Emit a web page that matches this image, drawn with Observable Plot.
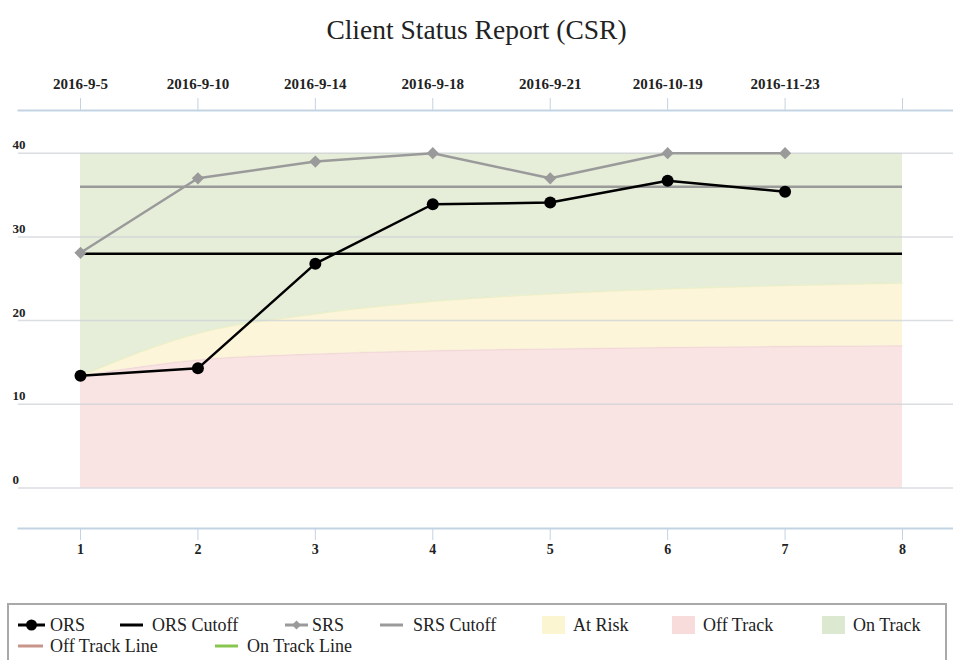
<!DOCTYPE html>
<html><head><meta charset="utf-8">
<script src="https://cdn.jsdelivr.net/npm/d3@7"></script>
<script src="https://cdn.jsdelivr.net/npm/@observablehq/plot@0.6"></script>
<style>
body{margin:0;background:#fff;font-family:"Liberation Serif","Times New Roman",serif;}
#wrap{position:relative;width:953px;height:660px;overflow:hidden;}
#title{height:55px;line-height:60px;text-align:center;font-size:27.5px;color:#222;}
#chart svg{display:block;}
#legendbox{position:absolute;left:7px;top:603px;width:940px;height:80px;border:2px solid #a9a9a9;box-sizing:border-box;}
.ltxt{position:absolute;font-size:18px;line-height:22px;height:22px;color:#222;white-space:nowrap;}
.lmark{position:absolute;}
</style></head><body>
<div id="wrap">
  <div id="title">Client Status Report (CSR)</div>
  <div id="chart"></div>
  <div id="legendbox"></div>
</div>
<script>
// ---- data ----
const sessions = [1, 2, 3, 4, 5, 6, 7];
const sessionDates = ["2016-9-5", "2016-9-10", "2016-9-14", "2016-9-18", "2016-9-21", "2016-10-19", "2016-11-23"];
const orsScores = [13.4, 14.3, 26.8, 33.9, 34.1, 36.7, 35.4];
const srsScores = [28.1, 37.0, 39.0, 40.0, 37.0, 40.0, 40.0];
const orsCutoff = 28;
const srsCutoff = 36;
const bandX = [1, 2, 3, 4, 5, 6, 7, 8];
const offTrackLine = [13.4, 15.3, 16.0, 16.4, 16.6, 16.8, 16.9, 17.0];
const onTrackLine = [13.4, 18.5, 20.8, 22.3, 23.2, 23.8, 24.2, 24.5];
const bandTop = 40;
const yTicks = [0, 10, 20, 30, 40];
const xTicks = [1, 2, 3, 4, 5, 6, 7, 8];

const bands = bandX.map((x, i) => ({x, off: offTrackLine[i], on: onTrackLine[i]}));
const ors = sessions.map((s, i) => ({x: s, y: orsScores[i]}));
const srs = sessions.map((s, i) => ({x: s, y: srsScores[i]}));

const C = {
  offFill: "#f9e3e3", riskFill: "#fcf5da", onFill: "#e6eed9",
  offLine: "#c9958a", onLine: "#86c64e",
  srs: "#9a9a9a", ors: "#000", axis: "#c3d3e3", grid: "#cdd2d7", text: "#222"
};

const chart = Plot.plot({
  width: 953, height: 545,
  marginTop: 55, marginBottom: 72, marginLeft: 18, marginRight: 0,
  x: {domain: [1, 8], range: [80, 902], label: null},
  y: {domain: [0, 40], range: [432.5, 97.7], axis: null, label: null},
  style: {fontFamily: "Liberation Serif, Times New Roman, serif", background: "transparent", overflow: "visible"},
  marks: [
    Plot.area(bands, {x1: "x", y1: 0, y2: "off", fill: C.offFill, curve: "monotone-x"}),
    Plot.area(bands, {x1: "x", y1: "off", y2: "on", fill: C.riskFill, curve: "monotone-x"}),
    Plot.area(bands, {x1: "x", y1: "on", y2: bandTop, fill: C.onFill, curve: "monotone-x"}),
    Plot.line(bands, {x: "x", y: "off", stroke: C.offLine, strokeOpacity: 0.12, strokeWidth: 1.5, curve: "monotone-x"}),
    Plot.line(bands, {x: "x", y: "on", stroke: C.onLine, strokeOpacity: 0.12, strokeWidth: 1.5, curve: "monotone-x"}),
    Plot.ruleY(yTicks, {stroke: C.grid, strokeWidth: 1.5, strokeOpacity: 0.75}),
    Plot.text(yTicks, {y: d => d, text: d => String(d), frameAnchor: "left", dx: -6, dy: -8, textAnchor: "start", fontSize: 13, fontWeight: "bold", fill: C.text}),
    Plot.frame({anchor: "top", stroke: C.axis, strokeWidth: 2}),
    Plot.frame({anchor: "bottom", stroke: C.axis, strokeWidth: 2}),
    Plot.axisX(xTicks, {anchor: "top", label: null, tickSize: 13, tickPadding: 9, tickFormat: d => sessionDates[d - 1] ?? "", stroke: C.axis, fill: C.text, fontSize: 15, fontWeight: "bold"}),
    Plot.axisX(xTicks, {anchor: "bottom", label: null, tickSize: 12, tickPadding: 4, tickFormat: d => String(d), stroke: C.axis, fill: C.text, fontSize: 14, fontWeight: "bold"}),
    Plot.ruleY([srsCutoff], {x1: bandX[0], x2: bandX[bandX.length - 1], stroke: C.srs, strokeWidth: 2.5}),
    Plot.ruleY([orsCutoff], {x1: bandX[0], x2: bandX[bandX.length - 1], stroke: C.ors, strokeWidth: 2.5}),
    Plot.line(srs, {x: "x", y: "y", stroke: C.srs, strokeWidth: 2.5}),
    Plot.dot(srs, {x: "x", y: "y", symbol: "diamond2", r: 5.5, fill: C.srs}),
    Plot.line(ors, {x: "x", y: "y", stroke: C.ors, strokeWidth: 2.5}),
    Plot.dot(ors, {x: "x", y: "y", r: 6, fill: C.ors})
  ]
});
document.getElementById("chart").appendChild(chart);

// ---- legend ----
const legendItems = [
  {label: "ORS", kind: "lineDot", color: C.ors, mx: 18, mw: 27, tx: 50, row: 0},
  {label: "ORS Cutoff", kind: "line", color: C.ors, mx: 120, mw: 23, tx: 152, row: 0},
  {label: "SRS", kind: "lineDiamond", color: C.srs, mx: 285, mw: 23, tx: 312, row: 0},
  {label: "SRS Cutoff", kind: "line", color: C.srs, mx: 380, mw: 23, tx: 413, row: 0},
  {label: "At Risk", kind: "swatch", color: "#fbf5d2", mx: 542, mw: 23, tx: 573, row: 0},
  {label: "Off Track", kind: "swatch", color: "#f8dcdc", mx: 672, mw: 23, tx: 703, row: 0},
  {label: "On Track", kind: "swatch", color: "#dce9d0", mx: 822, mw: 23, tx: 853, row: 0},
  {label: "Off Track Line", kind: "line", color: C.offLine, mx: 18, mw: 25, tx: 50, row: 1},
  {label: "On Track Line", kind: "line", color: C.onLine, mx: 215, mw: 23, tx: 247, row: 1}
];
const rowY = [625, 646];
const wrap = document.getElementById("wrap");
const ns = "http://www.w3.org/2000/svg";
legendItems.forEach(it => {
  const cy = rowY[it.row];
  const h = 18;
  const svg = document.createElementNS(ns, "svg");
  svg.setAttribute("width", it.mw); svg.setAttribute("height", h);
  svg.setAttribute("class", "lmark");
  svg.style.left = it.mx + "px"; svg.style.top = (cy - h / 2) + "px";
  if (it.kind === "swatch") {
    const r = document.createElementNS(ns, "rect");
    r.setAttribute("x", 0); r.setAttribute("y", 0); r.setAttribute("width", it.mw); r.setAttribute("height", h);
    r.setAttribute("fill", it.color); svg.appendChild(r);
  } else {
    const l = document.createElementNS(ns, "line");
    l.setAttribute("x1", 0); l.setAttribute("x2", it.mw); l.setAttribute("y1", h / 2); l.setAttribute("y2", h / 2);
    l.setAttribute("stroke", it.color); l.setAttribute("stroke-width", 3); svg.appendChild(l);
    if (it.kind === "lineDot") {
      const c = document.createElementNS(ns, "circle");
      c.setAttribute("cx", it.mw / 2); c.setAttribute("cy", h / 2); c.setAttribute("r", 5.5); c.setAttribute("fill", it.color);
      svg.appendChild(c);
    } else if (it.kind === "lineDiamond") {
      const p = document.createElementNS(ns, "path");
      const cx = it.mw / 2, c2 = h / 2, s = 4.5;
      p.setAttribute("d", `M${cx},${c2 - s}L${cx + s},${c2}L${cx},${c2 + s}L${cx - s},${c2}Z`);
      p.setAttribute("fill", it.color); svg.appendChild(p);
    }
  }
  wrap.appendChild(svg);
  const t = document.createElement("div");
  t.className = "ltxt"; t.textContent = it.label;
  t.style.left = it.tx + "px"; t.style.top = (cy - 11) + "px";
  wrap.appendChild(t);
});
</script>
</body></html>
